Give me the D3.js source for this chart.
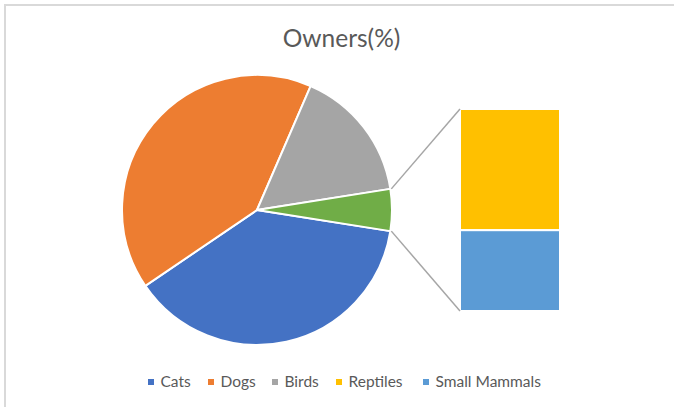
<!DOCTYPE html>
<html>
<head>
<meta charset="utf-8">
<script src="https://cdn.jsdelivr.net/npm/d3@7"></script>
<style>
  html, body { margin: 0; padding: 0; background: #fff; }
  svg { display: block; }
</style>
</head>
<body>
<script>
// Pet ownership shares; the last two series are split out into the stacked bar.
const categories = ["Cats", "Dogs", "Birds", "Reptiles", "Small Mammals"];
const values = [38, 41, 16, 3, 2];
const colors = ["#4472C4", "#ED7D31", "#A5A5A5", "#FFC000", "#5B9BD5"];
const otherColor = "#70AD47";
const splitCount = 2; // number of trailing categories shown in the bar

const W = 674, H = 407;
const svg = d3.select("body").append("svg").attr("width", W).attr("height", H);

// chart area frame (top and left edges)
svg.append("path")
  .attr("d", `M5,${H} L5,5 L${W},5`)
  .attr("fill", "none").attr("stroke", "#D9D9D9").attr("stroke-width", 2);

svg.append("text")
  .attr("x", 341.5).attr("y", 47)
  .attr("text-anchor", "middle")
  .attr("font-family", "Lato, 'Open Sans', sans-serif")
  .attr("font-size", 24.5)
  .attr("fill", "#595959")
  .text("Owners(%)");

// Pie part: primary categories plus one "other" slice
const nMain = categories.length - splitCount;
const mainItems = categories.slice(0, nMain).map((c, i) => ({ name: c, value: values[i], color: colors[i] }));
const splitItems = categories.slice(nMain).map((c, i) => ({ name: c, value: values[nMain + i], color: colors[nMain + i] }));
const otherTotal = d3.sum(splitItems, d => d.value);
const pieItems = mainItems.concat([{ name: "Other", value: otherTotal, color: otherColor }]);
const total = d3.sum(pieItems, d => d.value);

// Centre the "other" slice on the 3 o'clock direction
const otherAngle = otherTotal / total * 2 * Math.PI;
const start = Math.PI / 2 + otherAngle / 2;

const pie = d3.pie().sort(null).value(d => d.value)
  .startAngle(start).endAngle(start + 2 * Math.PI);
const arcs = pie(pieItems);

const cx = 257, cy = 210, R = 135;
const arc = d3.arc().innerRadius(0).outerRadius(R);

const gPie = svg.append("g").attr("transform", `translate(${cx},${cy})`);
gPie.selectAll("path").data(arcs).join("path")
  .attr("d", arc)
  .attr("fill", d => d.data.color)
  .attr("stroke", "#fff").attr("stroke-width", 2)
  .attr("stroke-linejoin", "round");

// Stacked bar for the split categories
const barX = 460, barW = 100, barTop = 109, barBottom = 311;
const y = d3.scaleLinear().domain([0, otherTotal]).range([barTop, barBottom]);
let acc = 0;
const stacks = splitItems.map(d => { const s = { ...d, y0: acc, y1: acc + d.value }; acc += d.value; return s; });
svg.append("g").selectAll("rect").data(stacks).join("rect")
  .attr("x", barX).attr("width", barW)
  .attr("y", d => y(d.y0)).attr("height", d => y(d.y1) - y(d.y0))
  .attr("fill", d => d.color)
  .attr("stroke", "#fff").attr("stroke-width", 2);

// Connector lines from the "other" slice edges to the bar corners
const otherArc = arcs[arcs.length - 1];
const edgePt = a => [cx + R * Math.sin(a), cy - R * Math.cos(a)];
const pTop = edgePt(otherArc.startAngle);
const pBot = edgePt(otherArc.endAngle);
svg.append("g").selectAll("line").data([[pTop, [barX, y(0)]], [pBot, [barX, y(otherTotal)]]]).join("line")
  .attr("x1", d => d[0][0] + 1).attr("y1", d => d[0][1])
  .attr("x2", d => d[1][0]).attr("y2", d => d[1][1])
  .attr("stroke", "#A6A6A6").attr("stroke-width", 1.5);

// Legend
const legendPos = [148, 208, 272, 336, 423];
const lg = svg.append("g");
categories.forEach((c, i) => {
  lg.append("rect").attr("x", legendPos[i]).attr("y", 379).attr("width", 6).attr("height", 6).attr("fill", colors[i]);
  lg.append("text").attr("x", legendPos[i] + 12.5).attr("y", 387)
    .attr("font-family", "Lato, 'Open Sans', sans-serif")
    .attr("font-size", 15.5).attr("fill", "#595959").text(c);
});
</script>
</body>
</html>
